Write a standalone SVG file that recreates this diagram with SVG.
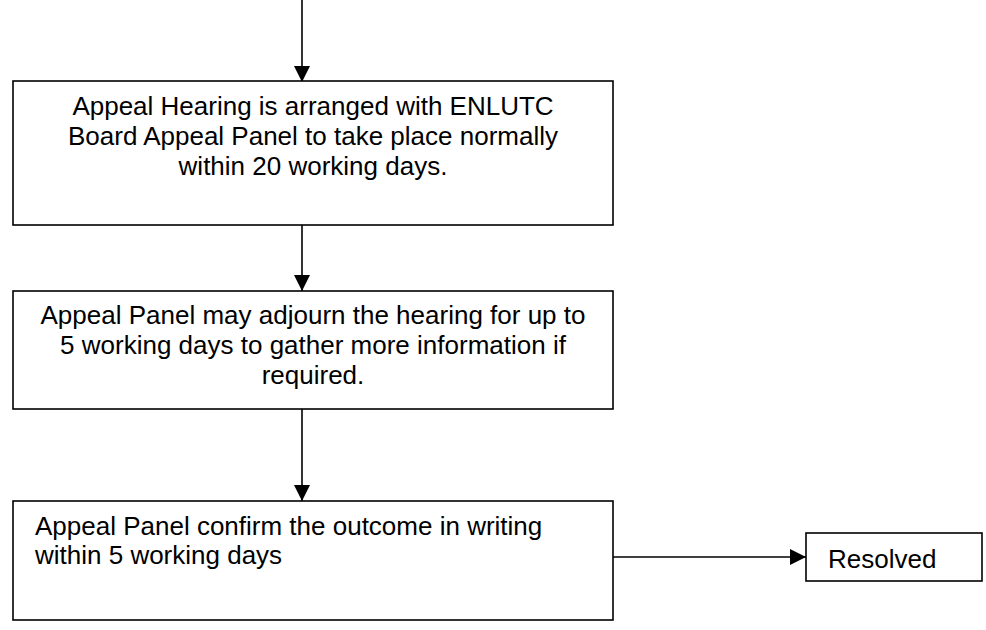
<svg xmlns="http://www.w3.org/2000/svg" width="986" height="630" viewBox="0 0 986 630">
<style>
.box{fill:#fff;stroke:#000;stroke-width:1.6}
.t{font-family:"Liberation Sans",Arial,sans-serif;font-size:26px;fill:#000}
.c{text-anchor:middle}
.edge{stroke:#000;stroke-width:1.6;fill:none;marker-end:url(#ah)}
</style>
<defs>
<marker id="ah" markerUnits="userSpaceOnUse" markerWidth="16" markerHeight="16" refX="16" refY="8" orient="auto" viewBox="0 0 16 16">
<path d="M0,0 L16,8 L0,16 z" fill="#000"/>
</marker>
</defs>
<g id="connectors">
<line class="edge" x1="302" y1="0" x2="302" y2="82"/>
<line class="edge" x1="302" y1="225" x2="302" y2="291"/>
<line class="edge" x1="302" y1="409" x2="302" y2="501"/>
<line class="edge" x1="613" y1="557" x2="806" y2="557"/>
</g>
<g id="node1">
<rect class="box" x="13" y="81" width="600" height="144"/>
<text class="t c" x="313" y="115">Appeal Hearing is arranged with ENLUTC</text>
<text class="t c" x="313" y="145">Board Appeal Panel to take place normally</text>
<text class="t c" x="313" y="175">within 20 working days.</text>
</g>
<g id="node2">
<rect class="box" x="13" y="291" width="600" height="118"/>
<text class="t c" x="313" y="324">Appeal Panel may adjourn the hearing for up to</text>
<text class="t c" x="313" y="354">5 working days to gather more information if</text>
<text class="t c" x="313" y="384">required.</text>
</g>
<g id="node3">
<rect class="box" x="13" y="501" width="600" height="119"/>
<text class="t" x="35" y="535">Appeal Panel confirm the outcome in writing</text>
<text class="t" x="35" y="564">within 5 working days</text>
</g>
<g id="node4">
<rect class="box" x="806" y="533" width="176" height="48"/>
<text class="t" x="828" y="568">Resolved</text>
</g>
</svg>
